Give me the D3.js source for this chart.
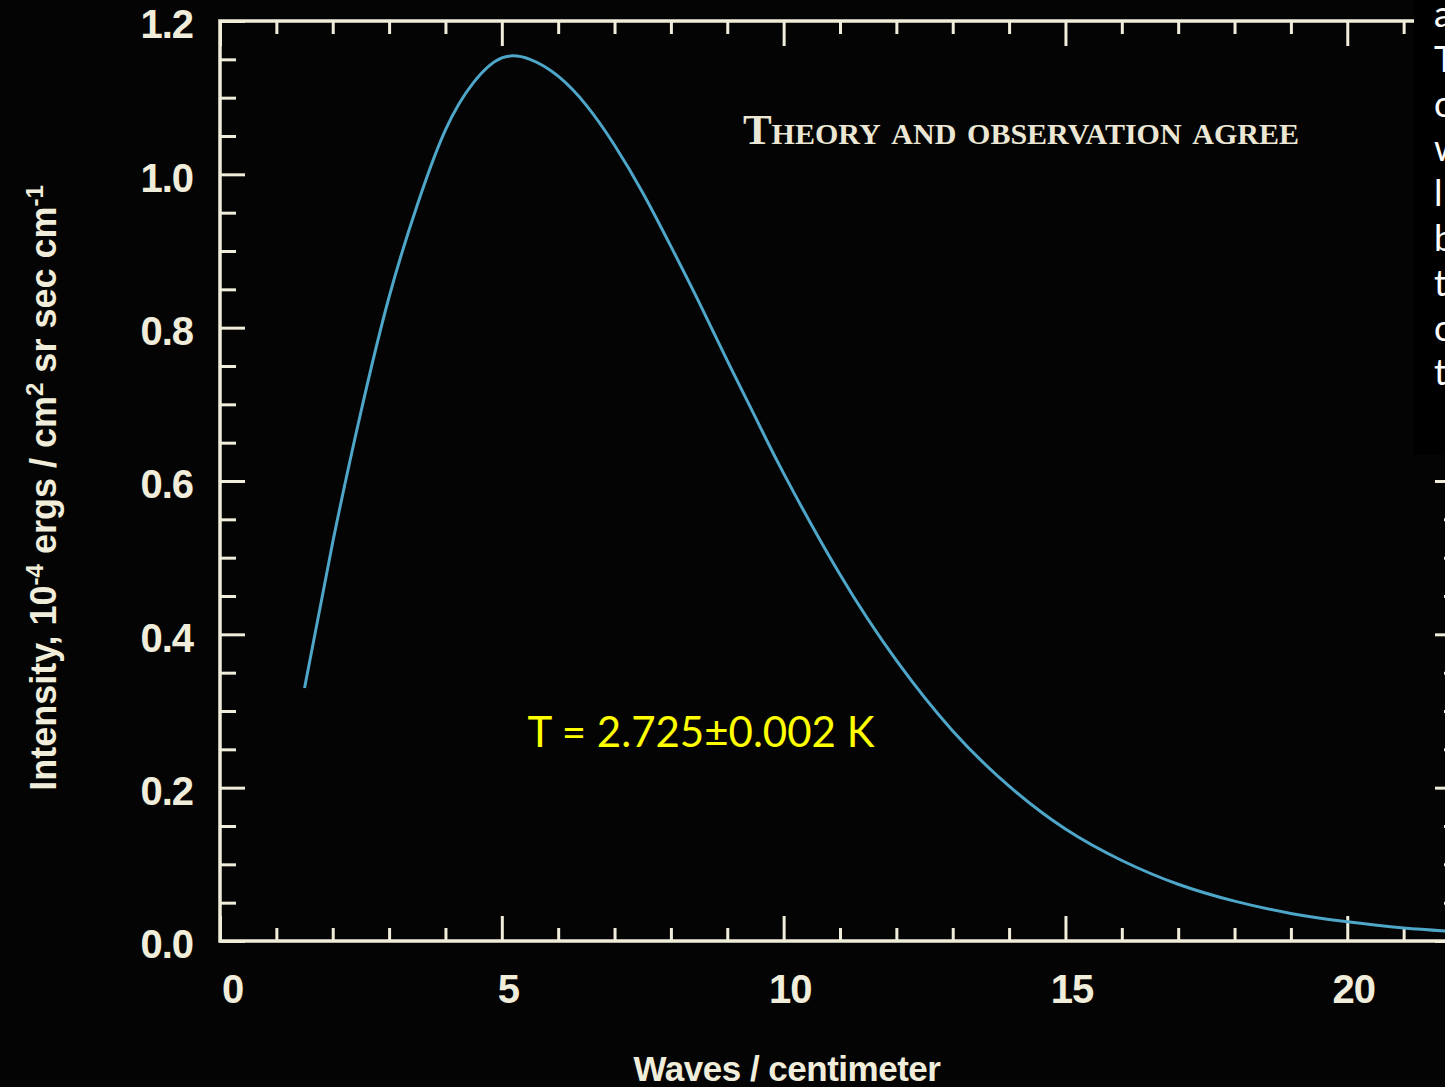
<!DOCTYPE html>
<html>
<head>
<meta charset="utf-8">
<script src="https://cdn.jsdelivr.net/npm/d3@7"></script>
<style>
  body { margin: 0; background: #000; }
  svg { display: block; }
</style>
</head>
<body>
<div id="chart"></div>
<script>
// values (wavenumber in cm^-1, intensity in 1e-4 erg/cm2 sr sec cm^-1)
let waveNumbers = [1.5, 2, 2.5, 3, 3.5, 4, 4.5, 5, 5.5, 6, 6.5, 7, 7.5, 8, 8.5, 9, 9.5, 10,
                   11, 12, 13, 14, 15, 16, 17, 18, 19, 20, 21, 22];
let intensity = [0.33, 0.52, 0.69, 0.84, 0.96, 1.058, 1.12, 1.152, 1.15, 1.128, 1.09, 1.038, 0.976, 0.906, 0.833, 0.757, 0.683, 0.61,
                 0.478, 0.366, 0.274, 0.202, 0.146, 0.105, 0.074, 0.052, 0.036, 0.025, 0.017, 0.012];

let yMajor = [0, 0.2, 0.4, 0.6, 0.8, 1.0, 1.2];
let yMinor = [0.05, 0.1, 0.15, 0.25, 0.3, 0.35, 0.45, 0.5, 0.55, 0.65, 0.7, 0.75, 0.85, 0.9, 0.95, 1.05, 1.1, 1.15];
let xMajor = [0, 5, 10, 15, 20];
let xMinor = [1, 2, 3, 4, 6, 7, 8, 9, 11, 12, 13, 14, 16, 17, 18, 19, 21];

let sideLetters = ["a", "T", "c", "w", "l", "b", "t", "c", "t"];

let w = 1445, h = 1087;
let plotLeft = 220, plotRight = 1460, plotTop = 21, plotBottom = 941;
let ink = "#f1eddb";

let svg = d3.select("#chart").append("svg")
  .attr("width", w)
  .attr("height", h);

svg.append("rect")
  .attr("width", w)
  .attr("height", h)
  .attr("fill", "#040404");

let x = d3.scaleLinear().domain([0, 22]).range([plotLeft, plotRight]);
let y = d3.scaleLinear().domain([0, 1.2]).range([plotBottom, plotTop]);

// frame
svg.append("rect")
  .attr("x", plotLeft)
  .attr("y", plotTop)
  .attr("width", plotRight - plotLeft)
  .attr("height", plotBottom - plotTop)
  .attr("fill", "none")
  .attr("stroke", ink)
  .attr("stroke-width", 3.5);

function styleAxis(g) {
  g.select(".domain").remove();
  g.selectAll(".tick line").attr("stroke", ink).attr("stroke-width", 3);
  g.selectAll(".tick text")
    .attr("fill", ink)
    .attr("font-family", "'Liberation Sans', Arial, sans-serif")
    .attr("font-weight", "bold")
    .attr("font-size", "40px")
    .attr("letter-spacing", "-1px");
}

// left axis
svg.append("g")
  .attr("transform", "translate(" + plotLeft + ",0)")
  .call(d3.axisLeft(y).tickValues(yMajor).tickSize(-25).tickPadding(27).tickFormat(d3.format(".1f")))
  .call(styleAxis)
  .selectAll(".tick text")
  .attr("dy", "0.42em");
svg.append("g")
  .attr("transform", "translate(" + plotLeft + ",0)")
  .call(d3.axisLeft(y).tickValues(yMinor).tickSize(-16).tickFormat(""))
  .call(styleAxis);

// right axis (mostly off the page)
svg.append("g")
  .attr("transform", "translate(" + plotRight + ",0)")
  .call(d3.axisRight(y).tickValues(yMajor).tickSize(-25).tickFormat(""))
  .call(styleAxis);
svg.append("g")
  .attr("transform", "translate(" + plotRight + ",0)")
  .call(d3.axisRight(y).tickValues(yMinor).tickSize(-16).tickFormat(""))
  .call(styleAxis);

// bottom axis
svg.append("g")
  .attr("transform", "translate(0," + plotBottom + ")")
  .call(d3.axisBottom(x).tickValues(xMajor).tickSize(-25).tickPadding(34))
  .call(styleAxis)
  .selectAll(".tick text")
  .attr("dx", function(d) { return d === 0 ? 12 : 6; });
svg.append("g")
  .attr("transform", "translate(0," + plotBottom + ")")
  .call(d3.axisBottom(x).tickValues(xMinor).tickSize(-13).tickFormat(""))
  .call(styleAxis);

// top axis
svg.append("g")
  .attr("transform", "translate(0," + plotTop + ")")
  .call(d3.axisTop(x).tickValues(xMajor).tickSize(-25).tickFormat(""))
  .call(styleAxis);
svg.append("g")
  .attr("transform", "translate(0," + plotTop + ")")
  .call(d3.axisTop(x).tickValues(xMinor).tickSize(-13).tickFormat(""))
  .call(styleAxis);

// the spectrum
let line = d3.line()
  .x(function(d, i) { return x(waveNumbers[i]); })
  .y(function(d) { return y(d); })
  .curve(d3.curveNatural);

svg.append("path")
  .datum(intensity)
  .attr("d", line)
  .attr("fill", "none")
  .attr("stroke", "#4ea6c9")
  .attr("stroke-width", 3);

// titles
svg.append("text")
  .attr("x", 787)
  .attr("y", 1081)
  .attr("text-anchor", "middle")
  .attr("fill", ink)
  .attr("font-family", "'Liberation Sans', Arial, sans-serif")
  .attr("font-weight", "bold")
  .attr("font-size", "35px")
  .attr("letter-spacing", "-0.5px")
  .text("Waves / centimeter");

let yTitle = svg.append("text")
  .attr("transform", "translate(56,488) rotate(-90)")
  .attr("text-anchor", "middle")
  .attr("fill", ink)
  .attr("font-family", "'Liberation Sans', Arial, sans-serif")
  .attr("font-weight", "bold")
  .attr("font-size", "36px");
yTitle.append("tspan").text("Intensity, 10");
yTitle.append("tspan").attr("font-size", "24px").attr("dy", -13).text("-4");
yTitle.append("tspan").attr("dy", 13).text(" ergs / cm");
yTitle.append("tspan").attr("font-size", "24px").attr("dy", -13).text("2");
yTitle.append("tspan").attr("dy", 13).text(" sr sec cm");
yTitle.append("tspan").attr("font-size", "24px").attr("dy", -13).text("-1");

svg.append("text")
  .attr("x", 1021)
  .attr("y", 144)
  .attr("text-anchor", "middle")
  .attr("fill", "#ebe7d4")
  .attr("font-family", "'Liberation Serif', 'Times New Roman', serif")
  .attr("font-weight", "bold")
  .attr("font-size", "43px")
  .style("font-variant", "small-caps")
  .text("Theory and observation agree");

svg.append("text")
  .attr("x", 701)
  .attr("y", 747)
  .attr("text-anchor", "middle")
  .attr("fill", "#ffff00")
  .attr("font-family", "Lato, 'Open Sans', sans-serif")
  .attr("font-size", "42px")
  .text("T = 2.725\u00b10.002 K");

// slide panel covering the top right corner
svg.append("rect")
  .attr("x", 1414)
  .attr("y", 0)
  .attr("width", 40)
  .attr("height", 455)
  .attr("fill", "#000");

svg.selectAll(".side")
  .data(sideLetters)
  .enter()
  .append("text")
  .attr("class", "side")
  .attr("x", 1434)
  .attr("y", function(d, i) { return 27 + i * 44.8; })
  .attr("fill", "#ffffff")
  .attr("font-family", "Lato, 'Open Sans', sans-serif")
  .attr("font-size", "36px")
  .text(function(d) { return d; });
</script>
</body>
</html>
